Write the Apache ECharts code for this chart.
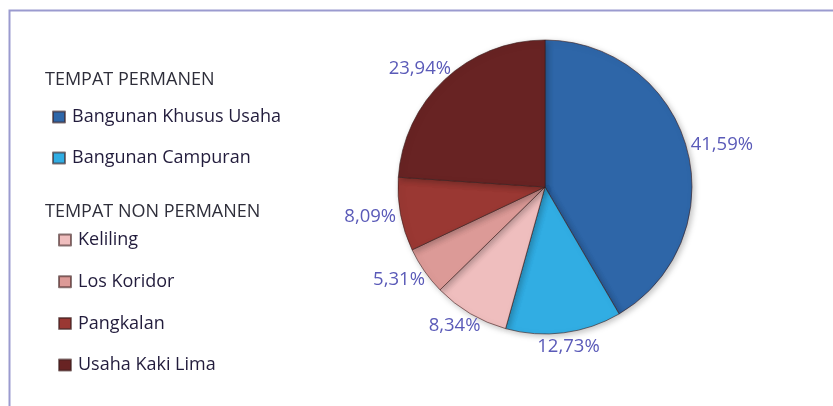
<!DOCTYPE html>
<html>
<head>
<meta charset="utf-8">
<script src="https://cdn.jsdelivr.net/npm/echarts@6/dist/echarts.min.js"></script>
<style>
  html, body { margin: 0; padding: 0; background: #fff; }
  #chart { width: 833px; height: 406px; }
</style>
</head>
<body>
<div id="chart"></div>
<script>
// data
const categories = ['Bangunan Khusus Usaha', 'Bangunan Campuran', 'Keliling', 'Los Koridor', 'Pangkalan', 'Usaha Kaki Lima'];
const values = [41.59, 12.73, 8.34, 5.31, 8.09, 23.94];
const groupPermanen = ['Bangunan Khusus Usaha', 'Bangunan Campuran'];
const groupNonPermanen = ['Keliling', 'Los Koridor', 'Pangkalan', 'Usaha Kaki Lima'];
const colors = ['#2e66a8', '#31ade3', '#efbebe', '#dc9a97', '#9a3833', '#682323'];

const center = [545, 187];
const radius = 147;
const font = 'Open Sans';

const myChart = echarts.init(document.getElementById('chart'));

const total = values.reduce((a, b) => a + b, 0);
// sudut tengah tiap irisan (searah jarum jam dari atas)
const midAngles = [];
let acc = 0;
values.forEach(v => {
  midAngles.push((acc + v / 2) / total * Math.PI * 2);
  acc += v;
});

const legendText = {
  fontFamily: font,
  fontSize: 18,
  color: '#221c3c',
  lineHeight: 18,
  padding: [0, 0, 0, 2]
};

const option = {
  animation: false,
  color: colors,
  graphic: [
    {
      type: 'polyline',
      shape: { points: [[833, 10.5], [9.5, 10.5], [9.5, 406]] },
      style: { stroke: '#9b9bcf', lineWidth: 2, fill: null }
    },
    {
      type: 'text', left: 45, top: 71,
      style: { text: 'TEMPAT PERMANEN', font: '18px "Open Sans"', fill: '#2e2e3a' }
    },
    {
      type: 'text', left: 45, top: 203,
      style: { text: 'TEMPAT NON PERMANEN', font: '18px "Open Sans"', fill: '#2e2e3a' }
    }
  ],
  legend: [
    {
      data: groupPermanen,
      orient: 'vertical',
      left: 52, top: 108, padding: 0,
      icon: 'rect', itemWidth: 12, itemHeight: 11,
      itemGap: 23,
      textStyle: legendText,
      selectedMode: false
    },
    {
      data: groupNonPermanen,
      orient: 'vertical',
      left: 58, top: 231, padding: 0,
      icon: 'rect', itemWidth: 12, itemHeight: 11,
      itemGap: 23.7,
      textStyle: legendText,
      selectedMode: false
    }
  ],
  series: [
    {
      type: 'pie',
      center: center,
      radius: radius,
      startAngle: 90,
      clockwise: true,
      data: categories.map((c, i) => ({ name: c, value: values[i] })),
      itemStyle: {
        borderColor: 'rgba(60,30,30,0.6)',
        borderWidth: 1,
        shadowBlur: 6,
        shadowColor: 'rgba(0,0,0,0.25)',
        shadowOffsetX: 2,
        shadowOffsetY: 2
      },
      label: {
        show: true,
        position: 'outside',
        formatter: p => p.value.toFixed(2).replace('.', ',') + '%',
        fontFamily: font,
        fontSize: 18.5,
        color: '#5a5ab8'
      },
      labelLine: { show: false, length: 0, length2: 0 },
      labelLayout: function (params) {
        const a = midAngles[params.dataIndex];
        const dx = Math.sin(a), dy = -Math.cos(a);
        const w = params.labelRect.width, h = params.labelRect.height;
        const r = radius + 5;
        return {
          x: center[0] + dx * r + dx * w / 2,
          y: center[1] + dy * r + dy * h / 2,
          align: 'center',
          verticalAlign: 'middle'
        };
      },
      emphasis: { disabled: true }
    }
  ]
};

myChart.setOption(option);
</script>
</body>
</html>
